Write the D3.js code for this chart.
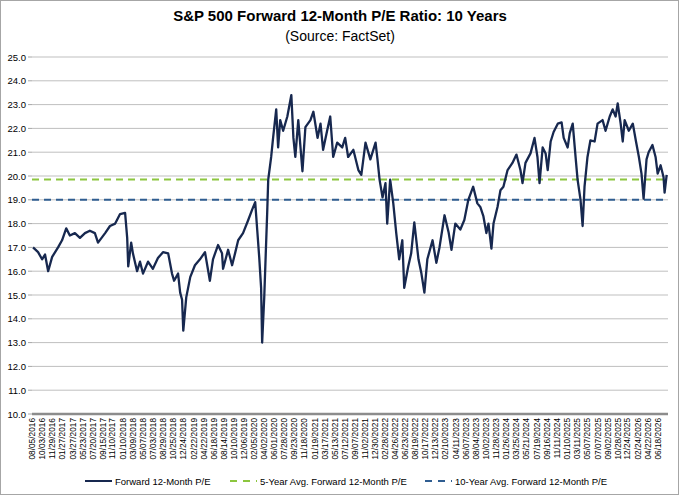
<!DOCTYPE html>
<html>
<head>
<meta charset="utf-8">
<script src="https://cdn.jsdelivr.net/npm/d3@7"></script>
<style>
  body { margin: 0; background: #fff; }
  text { font-family: "Liberation Sans", Arial, sans-serif; }
</style>
</head>
<body>
<svg id="chart" width="679" height="495"></svg>
<script>
// tick labels shown on the x axis
const tickLabels = ["08/05/2016","10/03/2016","11/29/2016","01/27/2017","03/27/2017","05/23/2017","07/20/2017","09/15/2017","11/10/2017","01/10/2018","03/09/2018","05/07/2018","07/03/2018","08/29/2018","10/25/2018","12/24/2018","02/22/2019","04/22/2019","06/18/2019","08/14/2019","10/10/2019","12/06/2019","02/05/2020","04/02/2020","06/01/2020","07/28/2020","09/23/2020","11/18/2020","01/19/2021","03/17/2021","05/13/2021","07/12/2021","09/07/2021","11/02/2021","12/30/2021","02/28/2022","04/26/2022","06/23/2022","08/19/2022","10/17/2022","12/13/2022","02/10/2023","04/11/2023","06/07/2023","08/04/2023","10/02/2023","11/28/2023","01/26/2024","03/25/2024","05/21/2024","07/19/2024","09/16/2024","11/11/2024","01/10/2025","03/11/2025","05/07/2025","07/07/2025","09/02/2025","10/28/2025","12/24/2025","02/24/2026","04/22/2026","06/18/2026"];

const yTicks = [10,11,12,13,14,15,16,17,18,19,20,21,22,23,24,25];

// forward 12-month P/E
const dates = ["2016-08-11","2016-09-09","2016-10-02","2016-10-19","2016-11-06","2016-11-29","2017-01-02","2017-01-25","2017-02-18","2017-03-11","2017-04-09","2017-05-08","2017-06-06","2017-07-04","2017-08-02","2017-08-20","2017-09-30","2017-10-28","2017-11-27","2017-12-25","2018-01-23","2018-02-04","2018-02-10","2018-02-27","2018-03-09","2018-04-02","2018-04-19","2018-05-06","2018-06-04","2018-07-02","2018-07-31","2018-08-29","2018-09-28","2018-10-20","2018-11-01","2018-11-24","2018-12-06","2018-12-17","2018-12-24","2019-01-10","2019-02-02","2019-03-01","2019-03-30","2019-04-28","2019-05-26","2019-06-13","2019-07-12","2019-08-04","2019-08-10","2019-09-08","2019-10-01","2019-10-18","2019-11-05","2019-12-03","2020-01-02","2020-01-25","2020-02-11","2020-02-23","2020-03-05","2020-03-16","2020-03-22","2020-04-03","2020-04-20","2020-04-26","2020-05-13","2020-05-24","2020-06-11","2020-06-22","2020-07-04","2020-07-21","2020-08-14","2020-09-06","2020-09-18","2020-09-29","2020-10-16","2020-11-09","2020-11-26","2020-12-25","2021-01-11","2021-02-04","2021-02-21","2021-03-08","2021-03-31","2021-04-18","2021-05-05","2021-05-28","2021-06-26","2021-07-13","2021-07-30","2021-08-29","2021-09-27","2021-10-14","2021-11-07","2021-12-05","2022-01-04","2022-01-15","2022-01-27","2022-02-13","2022-03-02","2022-03-12","2022-03-29","2022-04-16","2022-05-03","2022-05-20","2022-06-07","2022-06-18","2022-07-11","2022-07-28","2022-08-15","2022-09-08","2022-09-25","2022-10-12","2022-10-29","2022-11-28","2022-12-20","2023-01-07","2023-02-05","2023-02-28","2023-03-17","2023-04-08","2023-05-07","2023-05-30","2023-06-22","2023-07-20","2023-08-13","2023-08-30","2023-09-17","2023-10-04","2023-10-16","2023-11-02","2023-11-14","2023-12-07","2023-12-24","2024-01-10","2024-02-03","2024-03-02","2024-03-25","2024-04-17","2024-04-29","2024-05-16","2024-06-14","2024-07-07","2024-07-24","2024-08-05","2024-08-23","2024-09-09","2024-09-21","2024-10-08","2024-10-25","2024-11-18","2024-12-10","2024-12-22","2025-01-14","2025-01-26","2025-02-12","2025-03-01","2025-03-12","2025-03-29","2025-04-10","2025-04-21","2025-05-08","2025-05-25","2025-06-18","2025-07-05","2025-08-03","2025-08-20","2025-09-13","2025-09-30","2025-10-17","2025-10-29","2025-11-15","2025-11-27","2025-12-08","2026-01-01","2026-01-24","2026-02-10","2026-02-28","2026-03-15","2026-03-27","2026-04-13","2026-04-25","2026-05-17","2026-06-04","2026-06-16","2026-07-03","2026-07-20","2026-07-26","2026-08-07"];
const peValues = [17.0,16.8,16.5,16.7,16.0,16.6,17.0,17.3,17.8,17.5,17.6,17.4,17.6,17.7,17.6,17.2,17.6,17.9,18.0,18.4,18.45,17.4,16.2,17.2,16.75,16.0,16.4,15.9,16.4,16.1,16.55,16.8,16.75,15.9,15.6,15.9,15.1,14.8,13.5,14.9,15.75,16.25,16.5,16.8,15.6,16.5,17.1,16.75,16.1,16.9,16.25,16.75,17.3,17.6,18.15,18.6,18.9,17.7,16.6,15.3,13.0,14.9,18.45,19.85,20.8,21.6,22.8,21.2,22.35,21.9,22.5,23.4,21.6,20.8,22.35,20.2,22.05,22.35,22.7,21.6,22.2,21.1,21.9,22.5,20.8,21.4,21.2,21.6,20.8,21.1,20.25,20.05,21.4,20.7,21.4,20.7,19.85,19.1,19.7,18.0,19.85,18.85,17.6,16.5,17.3,15.3,16.2,16.75,18.05,16.5,15.9,15.1,16.5,17.3,16.35,17.0,18.35,17.65,16.9,18.0,17.75,18.15,19.0,19.55,18.85,18.7,18.3,17.6,18.0,16.95,18.0,18.7,19.4,19.55,20.25,20.55,20.9,20.25,19.7,20.55,20.95,21.6,20.8,19.7,21.2,20.95,20.25,21.45,21.85,22.2,22.25,21.6,21.2,21.8,22.2,20.75,19.85,19.0,17.9,19.55,20.8,21.5,21.45,22.2,22.35,21.9,22.5,22.8,22.5,23.05,22.2,21.45,22.35,21.9,22.2,21.5,20.8,20.1,19.05,20.7,21.0,21.3,20.8,20.1,20.45,19.95,19.3,20.05];

const avg5 = 19.85;
const avg10 = 19.0;

const seriesNames = ["Forward 12-Month P/E", "5-Year Avg. Forward 12-Month P/E", "10-Year Avg. Forward 12-Month P/E"];
const colors = ["#17284f", "#8cc63f", "#2f5d91"];

const svg = d3.select("#chart");
const W = 679, H = 495;
const plotL = 32, plotR = 668, plotT = 57, plotB = 414;

const parseIso = d3.timeParse("%Y-%m-%d");
const parseUs = d3.timeParse("%m/%d/%Y");
const data = dates.map((d, i) => ({ date: parseIso(d), v: peValues[i] }));

// x: first tick label at left edge, last tick label near right
const x = d3.scaleTime()
  .domain([parseUs(tickLabels[0]), parseUs(tickLabels[tickLabels.length - 1])])
  .range([plotL, 658]);
const y = d3.scaleLinear().domain([10, 25]).range([plotB, plotT]);

// outer frame
svg.append("rect").attr("x", 0.5).attr("y", 0.5).attr("width", W - 1).attr("height", H - 1)
  .attr("fill", "#fff").attr("stroke", "#a6a6a6");

// title
svg.append("text").attr("x", 340).attr("y", 21).attr("text-anchor", "middle")
  .attr("font-size", 15).attr("font-weight", "bold").text("S&P 500 Forward 12-Month P/E Ratio: 10 Years");
svg.append("text").attr("x", 340).attr("y", 41).attr("text-anchor", "middle")
  .attr("font-size", 14).text("(Source: FactSet)");

// gridlines
svg.append("g").selectAll("line").data(yTicks.slice(1)).join("line")
  .attr("x1", plotL).attr("x2", plotR)
  .attr("y1", d => y(d)).attr("y2", d => y(d))
  .attr("stroke", "#bfbfbf").attr("stroke-width", 1);

// y labels
svg.append("g").selectAll("text").data(yTicks).join("text")
  .attr("x", 26).attr("y", d => y(d) + 3.5).attr("text-anchor", "end")
  .attr("font-size", 9.5).text(d => d.toFixed(1));
svg.append("g").selectAll("line").data(yTicks).join("line")
  .attr("x1", 28).attr("x2", plotL).attr("y1", d => y(d)).attr("y2", d => y(d))
  .attr("stroke", "#a6a6a6");

// x axis
svg.append("line").attr("x1", plotL).attr("x2", plotR).attr("y1", plotB).attr("y2", plotB)
  .attr("stroke", "#8c8c8c").attr("stroke-width", 2.5);
svg.append("g").selectAll("text").data(tickLabels).join("text")
  .attr("transform", d => `translate(${x(parseUs(d)) + 3},${plotB + 4}) rotate(-90)`)
  .attr("text-anchor", "end").attr("font-size", 8.3).text(d => d);

// average lines
[avg5, avg10].forEach((a, i) => {
  svg.append("line").attr("x1", plotL).attr("x2", plotR).attr("y1", y(a)).attr("y2", y(a))
    .attr("stroke", colors[i + 1]).attr("stroke-width", 2).attr("stroke-dasharray", "7,5");
});

// main line
svg.append("path").datum(data)
  .attr("d", d3.line().x(d => x(d.date)).y(d => y(d.v)))
  .attr("fill", "none").attr("stroke", colors[0]).attr("stroke-width", 2.3)
  .attr("stroke-linejoin", "round");

// legend
const legendX = [85, 230, 425];
seriesNames.forEach((n, i) => {
  const g = svg.append("g").attr("transform", `translate(${legendX[i]},481)`);
  g.append("line").attr("x1", 0).attr("x2", 27).attr("y1", 0).attr("y2", 0)
    .attr("stroke", colors[i]).attr("stroke-width", 2)
    .attr("stroke-dasharray", i === 0 ? null : "7,6");
  g.append("text").attr("x", 30).attr("y", 3.5).attr("font-size", 9.5).text(n);
});
</script>
</body>
</html>
